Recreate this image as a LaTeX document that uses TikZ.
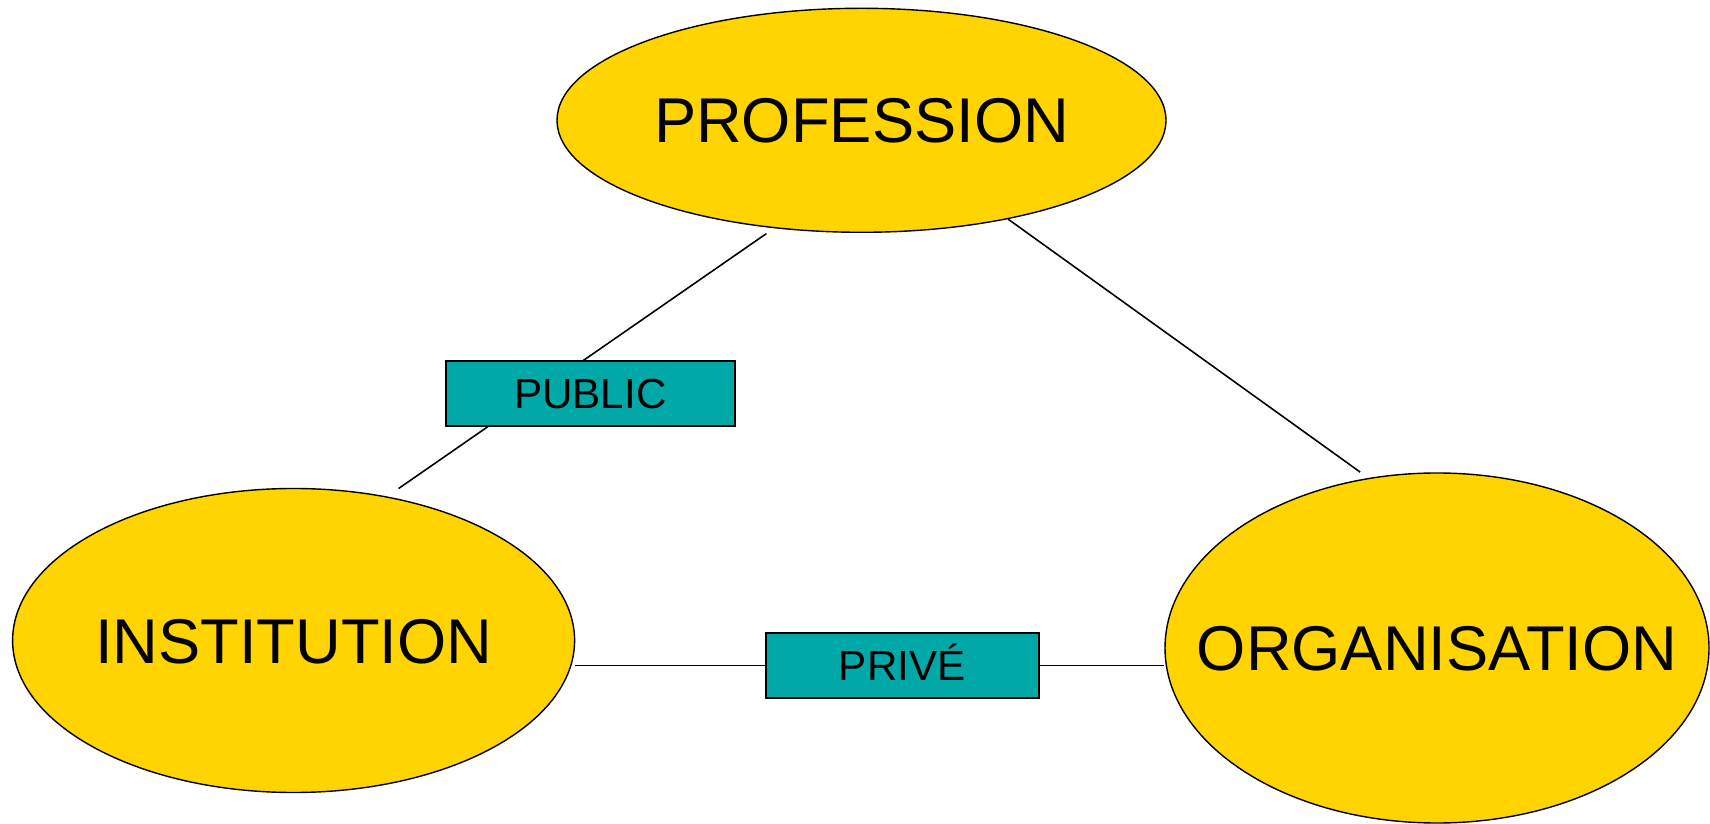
\documentclass[tikz,border=0pt]{standalone}
\usepackage{fontspec}
\setmainfont{Liberation Sans}
\usepackage{tikz}
\usetikzlibrary{shapes.geometric}
\usetikzlibrary{backgrounds}
\usetikzlibrary{positioning}
\usepackage{color}
\definecolor{sunflower}{RGB}{255, 212, 0}
\definecolor{turquoise}{RGB}{0, 168, 168}
\tikzset{
    pole/.style={ellipse, draw=black, fill=sunflower, line width=0.4pt,
                 inner xsep=-1cm, inner ysep=0pt,
                 font=\fontsize{18}{20}\selectfont, text height=12.9pt, text depth=0pt},
    tag/.style={rectangle, draw=black, fill=turquoise, line width=0.6pt, inner sep=0pt,
                font=\fontsize{12}{14}\selectfont, text height=8.6pt, text depth=0pt},
    link/.style={draw=black, line width=0.45pt}
}

\begin{document}
\begin{tikzpicture}
            % Frame to ensure alignment:
            \useasboundingbox (0.00, 0.00) rectangle (17.10, 8.23);
            % Poles
            \node[pole, minimum width=6.09cm, minimum height=2.24cm] (prof) at ( 8.615, 7.027) {PROFESSION};
            \node[pole, minimum width=5.62cm, minimum height=3.04cm] (inst) at ( 2.936, 1.825) {INSTITUTION};
            \node[pole, minimum width=5.44cm, minimum height=3.50cm] (org)  at (14.370, 1.750) {ORGANISATION};
            % Labels
            \node[tag, minimum width=2.89cm, minimum height=0.65cm]  (pub)  at ( 5.904, 4.295) {PUBLIC};
            \node[tag, minimum width=2.73cm, minimum height=0.65cm]  (priv) at ( 9.022, 1.577) {PRIVÉ};
            % Links (behind the labels)
            \begin{scope}[on background layer]
                \draw[link, shorten <=0.094cm, shorten >=0.139cm] (prof.231) -- (inst.57);
                \draw[link, shorten >=0.10cm]                     (prof.326) -- (org.112.5);
                \draw[link]                                       (inst.east |- priv) -- (org.west |- priv);
            \end{scope}
\end{tikzpicture}
\end{document}
